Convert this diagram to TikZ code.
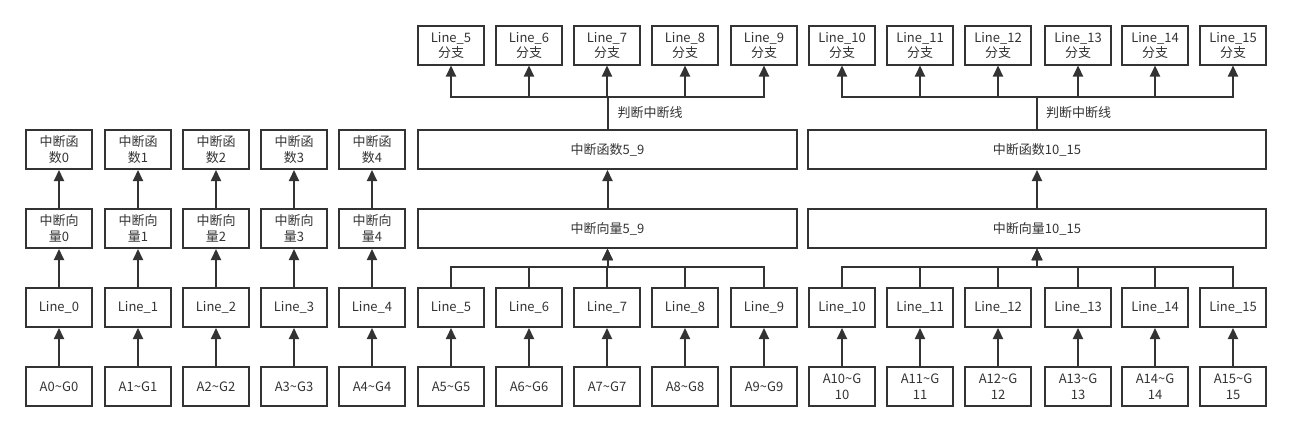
\documentclass[tikz,border=0pt]{standalone}
\usepackage{fontspec}
\setmainfont{Noto Sans CJK SC}
\usetikzlibrary{arrows.meta}
\definecolor{linegray}{HTML}{333333}
\tikzset{
  box/.style={draw=linegray, line width=2pt, minimum width=66pt, minimum height=39pt,
    inner sep=0pt, align=center, text=linegray, font=\fontsize{13}{16.5}\selectfont},
  link/.style={draw=linegray, line width=2pt, -{Triangle[length=11pt,width=10pt]}},
  lbl/.style={text=linegray, font=\fontsize{13}{16.5}\selectfont, inner sep=0pt}
}
\begin{document}
\begin{tikzpicture}[x=1pt,y=-1pt]
        \useasboundingbox (0,0) rectangle (1292,432);
        % inputs and lines
        \foreach \i/\cx in {0/59,1/138,2/216,3/294,4/372,5/451,6/529,7/607,
                            8/685,9/764,10/842,11/920,12/998,13/1078,14/1155,15/1233} {
          \ifnum\i<10
            \draw (\cx,386.5) node[box] (a\i) {A\i\textasciitilde G\i};
          \else
            \draw (\cx,386.5) node[box] (a\i) {A\i\textasciitilde G\\\i};
          \fi
          \draw (\cx,307.5) node[box] (l\i) {Line\_\i};
          \draw[link] (a\i) -- (l\i);
        }
        % single vectors
        \foreach \i/\cx in {0/59,1/138,2/216,3/294,4/372} {
          \draw (\cx,228.5) node[box] (v\i) {中断向\\量\i};
          \draw (\cx,149.5) node[box] (f\i) {中断函\\数\i};
          \draw[link] (l\i) -- (v\i);
          \draw[link] (v\i) -- (f\i);
        }
        % shared vectors
        \draw (607.5,228.5) node[box,minimum width=379pt] (vA) {中断向量5\_9};
        \draw (607.5,149.5) node[box,minimum width=379pt] (fA) {中断函数5\_9};
        \draw (1037,228.5) node[box,minimum width=458pt] (vB) {中断向量10\_15};
        \draw (1037,149.5) node[box,minimum width=458pt] (fB) {中断函数10\_15};
        \draw[link] (vA) -- (fA);
        \draw[link] (vB) -- (fB);
        % branches
        \foreach \i/\cx in {5/451,6/529,7/607,8/685,9/764,10/842,11/920,
                            12/998,13/1078,14/1155,15/1233} {
          \draw (\cx,45) node[box] (b\i) {Line\_\i\\[-1.5pt]分支};
        }
        \foreach \i in {5,...,9} {
          \draw[link] (l\i.north) -- ++(0,-20) -| (vA.south);
          \draw[link] (fA.north) -- ++(0,-32) -| (b\i.south);
        }
        \foreach \i in {10,...,15} {
          \draw[link] (l\i.north) -- ++(0,-20) -| (vB.south);
          \draw[link] (fB.north) -- ++(0,-32) -| (b\i.south);
        }
        \path (fA.north) -- ++(0,-32) node[midway,lbl,anchor=west,xshift=10pt] {判断中断线};
        \path (fB.north) -- ++(0,-32) node[midway,lbl,anchor=west,xshift=9pt] {判断中断线};
    \end{tikzpicture}
\end{document}
